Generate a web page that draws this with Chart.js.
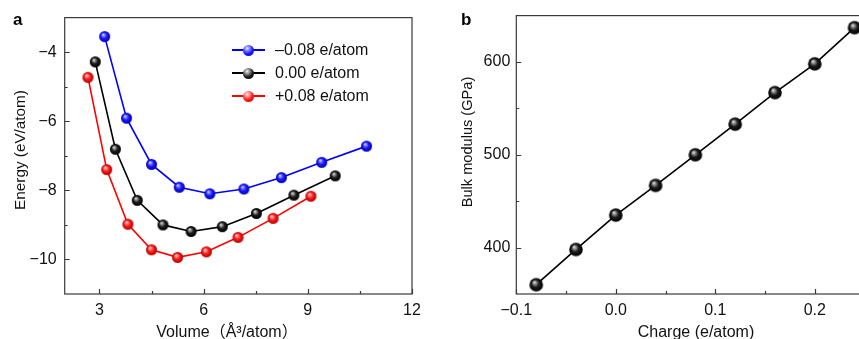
<!DOCTYPE html>
<html>
<head>
<meta charset="utf-8">
<script src="https://cdn.jsdelivr.net/npm/chart.js@4.4.1/dist/chart.umd.min.js"></script>
<style>
html,body{margin:0;padding:0;width:859px;height:339px;overflow:hidden;background:#fff;}
body{position:relative;font-family:'Liberation Sans',Arial,'Noto Sans CJK SC',sans-serif;}
canvas{position:absolute;top:0;}
.plabel{position:absolute;font-weight:bold;font-size:17px;line-height:17px;color:#000;}
#legend{position:absolute;left:232px;top:38px;}
.lrow{position:relative;height:23px;width:200px;}
.lline{position:absolute;left:0;top:11px;width:33px;height:1.6px;}
.ldot{position:absolute;left:11px;top:6.5px;width:11px;height:11px;border-radius:50%;}
.ltxt{position:absolute;left:43px;top:2px;font-size:16px;line-height:19px;color:#111;white-space:nowrap;}
</style>
</head>
<body>
<canvas id="ca" width="430" height="345" style="left:0"></canvas>
<canvas id="cb" width="445" height="345" style="left:430px"></canvas>
<div class="plabel" style="left:13px;top:11px">a</div>
<div class="plabel" style="left:461px;top:11px">b</div>
<div id="legend"></div>
<script>
// ---- Panel a data ----
const seriesLabels = ['\u20130.08 e/atom', '0.00 e/atom', '+0.08 e/atom'];
const seriesColors = ['#0000ff', '#000000', '#ff0000'];
const volNeg  = [3.15, 3.78, 4.50, 5.30, 6.18, 7.16, 8.24, 9.40, 10.69];
const eNeg    = [-3.55, -5.91, -7.25, -7.91, -8.10, -7.96, -7.63, -7.19, -6.72];
const volZero = [2.88, 3.46, 4.09, 4.83, 5.64, 6.54, 7.52, 8.60, 9.79];
const eZero   = [-4.28, -6.81, -8.29, -9.00, -9.19, -9.05, -8.67, -8.14, -7.58];
const volPos  = [2.67, 3.21, 3.82, 4.50, 5.25, 6.08, 6.99, 8.00, 9.09];
const ePos    = [-4.73, -7.40, -8.98, -9.72, -9.94, -9.78, -9.36, -8.81, -8.17];
const xTicksA = [3, 6, 9, 12];
const xMinorA = [4.5, 7.5, 10.5];
const yTicksA = [-10, -8, -6, -4];
const yMinorA = [-9, -7, -5];
const xTitleA = 'Volume\uFF08\u00C5\u00B3/atom\uFF09';
const yTitleA = 'Energy (eV/atom)';

// ---- Panel b data ----
const charge = [-0.08, -0.04, 0.00, 0.04, 0.08, 0.12, 0.16, 0.20, 0.24];
const bulk   = [360, 398, 435, 467, 500, 533, 567, 598, 637];
const xTicksB = [-0.1, 0.0, 0.1, 0.2];
const xMinorB = [-0.05, 0.05, 0.15];
const yTicksB = [400, 500, 600];
const yMinorB = [450, 550];
const xTitleB = 'Charge (e/atom)';
const yTitleB = 'Bulk modulus (GPa)';

const FONT = "'Liberation Sans', Arial, 'Noto Sans CJK SC', sans-serif";
const TXT = '#111';
const minus = s => String(s).replace('-', '\u2212');

const sphereStops = {
  '#0000ff': ['#f2f2ff', '#8a8aff', '#1a1aff', '#0000b0'],
  '#000000': ['#f4f4f4', '#9a9a9a', '#1c1c1c', '#000000'],
  '#ff0000': ['#fff0f0', '#ff9090', '#ff1a1a', '#b00000']
};
function makeSphere(color, r) {
  const c = document.createElement('canvas');
  const s = Math.ceil(2 * r + 2);
  c.width = s; c.height = s;
  const ctx = c.getContext('2d');
  const cx = s / 2, cy = s / 2;
  const st = sphereStops[color];
  const g = ctx.createRadialGradient(cx - 0.3 * r, cy - 0.4 * r, 0, cx, cy, r);
  g.addColorStop(0, st[0]);
  g.addColorStop(0.22, st[1]);
  g.addColorStop(0.55, st[2]);
  g.addColorStop(1, st[3]);
  ctx.fillStyle = g;
  ctx.beginPath(); ctx.arc(cx, cy, r, 0, Math.PI * 2); ctx.fill();
  return c;
}

function framePlugin(majX, minX, majY, minY) {
  return {
    id: 'frame',
    beforeDatasetsDraw(chart) {
      const ctx = chart.ctx, a = chart.chartArea;
      const xs = chart.scales.x, ys = chart.scales.y;
      ctx.save();
      ctx.strokeStyle = '#3a3a3a';
      ctx.lineWidth = 1.2;
      ctx.strokeRect(a.left, a.top, a.right - a.left, a.bottom - a.top);
      ctx.beginPath();
      majX.forEach(v => { const p = Math.round(xs.getPixelForValue(v)) + 0.5; ctx.moveTo(p, a.bottom); ctx.lineTo(p, a.bottom - 5); });
      minX.forEach(v => { const p = Math.round(xs.getPixelForValue(v)) + 0.5; ctx.moveTo(p, a.bottom); ctx.lineTo(p, a.bottom - 3); });
      majY.forEach(v => { const p = Math.round(ys.getPixelForValue(v)) + 0.5; ctx.moveTo(a.left, p); ctx.lineTo(a.left + 5, p); });
      minY.forEach(v => { const p = Math.round(ys.getPixelForValue(v)) + 0.5; ctx.moveTo(a.left, p); ctx.lineTo(a.left + 3, p); });
      ctx.stroke();
      ctx.restore();
    }
  };
}

// axis titles drawn as canvas text at tuned positions
function titlePlugin(items) {
  return {
    id: 'titles',
    afterDraw(chart) {
      const ctx = chart.ctx;
      items.forEach(it => {
        ctx.save();
        ctx.font = it.size + 'px ' + FONT;
        ctx.fillStyle = TXT;
        ctx.textAlign = 'center';
        ctx.textBaseline = 'middle';
        ctx.translate(it.x, it.y);
        if (it.rot) ctx.rotate(-Math.PI / 2);
        ctx.fillText(it.text, 0, 0);
        ctx.restore();
      });
    }
  };
}

function axisCommon(extra) {
  return Object.assign({
    type: 'linear',
    grid: { display: false, drawTicks: false },
    border: { display: false },
  }, extra);
}

const tickFont = { family: FONT, size: 16 };

// ---- Panel a ----
const seriesA = [[volNeg, eNeg], [volZero, eZero], [volPos, ePos]];
new Chart(document.getElementById('ca'), {
  type: 'scatter',
  data: {
    datasets: seriesA.map((s, i) => ({
      label: seriesLabels[i],
      data: s[0].map((x, j) => ({ x: x, y: s[1][j] })),
      showLine: true,
      borderColor: seriesColors[i],
      borderWidth: 1.6,
      pointStyle: makeSphere(seriesColors[i], 5.5),
      pointRadius: 6,
      clip: false
    }))
  },
  options: {
    responsive: false, animation: false, devicePixelRatio: 1, events: [],
    layout: { autoPadding: false, padding: { left: 0, top: 14, right: 18, bottom: 0 } },
    plugins: { legend: { display: false }, tooltip: { enabled: false } },
    scales: {
      x: axisCommon({
        min: 2, max: 12,
        afterBuildTicks: s => { s.ticks = xTicksA.map(v => ({ value: v })); },
        afterFit: s => { s.height = 51; },
        ticks: { font: tickFont, color: TXT, padding: 7, maxRotation: 0, autoSkip: false, callback: v => String(v) }
      }),
      y: axisCommon({
        min: -11, max: -3,
        afterBuildTicks: s => { s.ticks = yTicksA.map(v => ({ value: v })); },
        afterFit: s => { s.width = 64.7; },
        ticks: { font: tickFont, color: TXT, padding: 8, autoSkip: false, callback: v => minus(v) }
      })
    }
  },
  plugins: [
    framePlugin(xTicksA, xMinorA, yTicksA, yMinorA),
    titlePlugin([
      { text: xTitleA, x: 227, y: 332.5, size: 16 },
      { text: yTitleA, x: 20.5, y: 150, size: 15.3, rot: true }
    ])
  ]
});

// ---- Panel b ----
new Chart(document.getElementById('cb'), {
  type: 'scatter',
  data: {
    datasets: [{
      label: 'Bulk modulus',
      data: charge.map((x, j) => ({ x: x, y: bulk[j] })),
      showLine: true,
      borderColor: '#000000',
      borderWidth: 1.6,
      pointStyle: makeSphere('#000000', 6.8),
      pointRadius: 7,
      clip: false
    }]
  },
  options: {
    responsive: false, animation: false, devicePixelRatio: 1, events: [],
    layout: { autoPadding: false, padding: { left: 0, top: 14, right: 10.5, bottom: 0 } },
    plugins: { legend: { display: false }, tooltip: { enabled: false } },
    scales: {
      x: axisCommon({
        min: -0.1, max: 0.25,
        afterBuildTicks: s => { s.ticks = xTicksB.map(v => ({ value: v })); },
        afterFit: s => { s.height = 51; },
        ticks: { font: tickFont, color: TXT, padding: 7, maxRotation: 0, autoSkip: false, callback: v => minus(Number(v).toFixed(1)) }
      }),
      y: axisCommon({
        min: 350, max: 650,
        afterBuildTicks: s => { s.ticks = yTicksB.map(v => ({ value: v })); },
        afterFit: s => { s.width = 86.3; },
        ticks: { font: tickFont, color: TXT, padding: 6, autoSkip: false, callback: v => String(v) }
      })
    }
  },
  plugins: [
    framePlugin(xTicksB, xMinorB, yTicksB, yMinorB),
    titlePlugin([
      { text: xTitleB, x: 266, y: 332.5, size: 16 },
      { text: yTitleB, x: 38, y: 142, size: 14.6, rot: true }
    ])
  ]
});

// ---- Legend (HTML) ----
const lg = document.getElementById('legend');
const cssStops = {
  '#0000ff': 'radial-gradient(circle at 38% 30%, #f2f2ff 0%, #8a8aff 22%, #1a1aff 55%, #0000b0 100%)',
  '#000000': 'radial-gradient(circle at 38% 30%, #f4f4f4 0%, #9a9a9a 22%, #1c1c1c 55%, #000 100%)',
  '#ff0000': 'radial-gradient(circle at 38% 30%, #fff0f0 0%, #ff9090 22%, #ff1a1a 55%, #b00000 100%)'
};
seriesLabels.forEach((lab, i) => {
  const row = document.createElement('div'); row.className = 'lrow';
  const line = document.createElement('div'); line.className = 'lline'; line.style.background = seriesColors[i];
  const dot = document.createElement('div'); dot.className = 'ldot'; dot.style.background = cssStops[seriesColors[i]];
  const t = document.createElement('div'); t.className = 'ltxt'; t.textContent = lab;
  row.appendChild(line); row.appendChild(dot); row.appendChild(t);
  lg.appendChild(row);
});
</script>
</body>
</html>
